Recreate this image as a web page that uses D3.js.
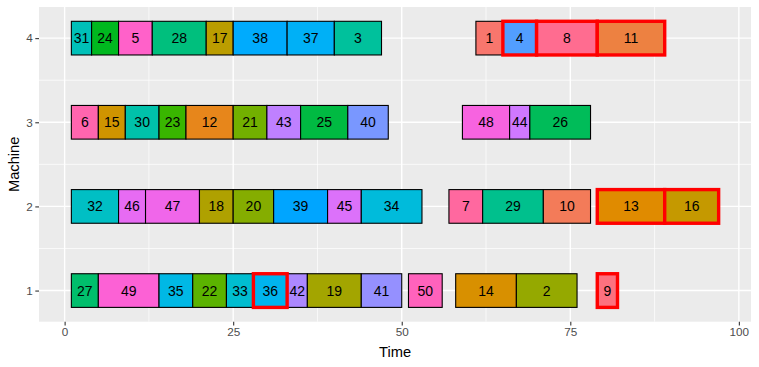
<!DOCTYPE html>
<html>
<head>
<meta charset="utf-8">
<script src="https://cdn.jsdelivr.net/npm/d3@7"></script>
<style>
  html, body { margin: 0; padding: 0; background: #fff; }
  svg { display: block; font-family: "Liberation Sans", Arial, sans-serif; }
</style>
</head>
<body>
<svg id="chart" width="759" height="367"></svg>
<script>
// ---- data ----
const jobs     = [31,24,5,28,17,38,37,3,1,4,8,11,
                  6,15,30,23,12,21,43,25,40,48,44,26,
                  32,46,47,18,20,39,45,34,7,29,10,13,16,
                  27,49,35,22,33,36,42,19,41,50,14,2,9];
const machines = [4,4,4,4,4,4,4,4,4,4,4,4,
                  3,3,3,3,3,3,3,3,3,3,3,3,
                  2,2,2,2,2,2,2,2,2,2,2,2,2,
                  1,1,1,1,1,1,1,1,1,1,1,1,1];
const starts   = [1,4,8,13,21,25,33,40,61,65,70,79,
                  1,5,9,14,18,25,30,35,42,59,66,69,
                  1,8,12,20,25,31,39,44,57,62,71,79,89,
                  1,5,14,19,24,28,33,36,44,51,58,67,79];
const ends     = [4,8,13,21,25,33,40,47,65,70,79,89,
                  5,9,14,18,25,30,35,42,48,66,69,78,
                  8,12,20,25,31,39,44,53,62,71,78,89,97,
                  5,14,19,24,28,33,36,44,50,56,67,76,82];
const highlighted = [4,8,11,13,16,36,9];
const xTicks = [0,25,50,75,100];
const yTicks = [1,2,3,4];
const xLabel = "Time";
const yLabel = "Machine";

// ---- R-like hcl (polarLUV) ----
function hclR(h, c, l) {
  const hr = h * Math.PI / 180;
  const U = c * Math.cos(hr), V = c * Math.sin(hr);
  const Xn = 95.047, Yn = 100, Zn = 108.883;
  const den = Xn + 15 * Yn + 3 * Zn;
  const un = 4 * Xn / den, vn = 9 * Yn / den;
  const Y = Yn * (l > 7.999592 ? Math.pow((l + 16) / 116, 3) : l / 903.3);
  const u = U / (13 * l) + un, v = V / (13 * l) + vn;
  const X = 9 * Y * u / (4 * v);
  const Z = -X / 3 - 5 * Y + 3 * Y / v;
  const x = X / 100, y = Y / 100, z = Z / 100;
  let r = 3.240479 * x - 1.537150 * y - 0.498535 * z;
  let g = -0.969256 * x + 1.875992 * y + 0.041556 * z;
  let b = 0.055648 * x - 0.204043 * y + 1.057311 * z;
  const gam = t => t <= 0.0031308 ? 12.92 * t : 1.055 * Math.pow(t, 1 / 2.4) - 0.055;
  const cl = t => Math.max(0, Math.min(255, Math.round(gam(t) * 255)));
  return d3.rgb(cl(r), cl(g), cl(b)).formatHex();
}

const levels = jobs.map(String).sort();
const n = levels.length;
const palette = levels.map((_, i) => hclR(15 + 360 * i / n, 100, 65));
const color = d3.scaleOrdinal().domain(levels).range(palette);

const data = jobs.map((j, i) => ({
  job: j, machine: machines[i], start: starts[i], end: ends[i],
  hi: highlighted.includes(j)
}));

// ---- layout ----
const svg = d3.select("#chart");
const panel = { left: 39, right: 751, top: 7, bottom: 321.7 };
const xMin = d3.min(starts), xMax = d3.max(ends);
const xPad = (xMax - xMin) * 0.05;
const x = d3.scaleLinear().domain([xMin - xPad, xMax + xPad]).range([panel.left, panel.right]);
const yMinV = d3.min(machines) - 0.2, yMaxV = d3.max(machines) + 0.2;
const yPad = (yMaxV - yMinV) * 0.05;
const y = d3.scaleLinear().domain([yMinV - yPad, yMaxV + yPad]).range([panel.bottom, panel.top]);

// panel bg
svg.append("rect").attr("x", panel.left).attr("y", panel.top)
  .attr("width", panel.right - panel.left).attr("height", panel.bottom - panel.top)
  .attr("fill", "#EBEBEB");

// minor grid
const xMinor = [12.5, 37.5, 62.5, 87.5];
const yMinor = [1.5, 2.5, 3.5];
const grid = svg.append("g");
grid.selectAll(".xmin").data(xMinor).join("line")
  .attr("x1", d => x(d)).attr("x2", d => x(d)).attr("y1", panel.top).attr("y2", panel.bottom)
  .attr("stroke", "#fff").attr("stroke-width", 0.7);
grid.selectAll(".ymin").data(yMinor).join("line")
  .attr("y1", d => y(d)).attr("y2", d => y(d)).attr("x1", panel.left).attr("x2", panel.right)
  .attr("stroke", "#fff").attr("stroke-width", 0.7);
grid.selectAll(".xmaj").data(xTicks).join("line")
  .attr("x1", d => x(d)).attr("x2", d => x(d)).attr("y1", panel.top).attr("y2", panel.bottom)
  .attr("stroke", "#fff").attr("stroke-width", 1.4);
grid.selectAll(".ymaj").data(yTicks).join("line")
  .attr("y1", d => y(d)).attr("y2", d => y(d)).attr("x1", panel.left).attr("x2", panel.right)
  .attr("stroke", "#fff").attr("stroke-width", 1.4);

// bars
const half = 0.2;
function drawBars(sel, stroke, sw) {
  sel.append("rect")
    .attr("x", d => x(d.start)).attr("width", d => x(d.end) - x(d.start))
    .attr("y", d => y(d.machine + half)).attr("height", d => y(d.machine - half) - y(d.machine + half))
    .attr("fill", d => color(String(d.job)))
    .attr("stroke", stroke).attr("stroke-width", sw);
}
const normal = svg.append("g").selectAll("g").data(data.filter(d => !d.hi)).join("g");
drawBars(normal, "#000", 1.1);
const hiG = svg.append("g").selectAll("g").data(data.filter(d => d.hi)).join("g");
drawBars(hiG, "#FF0000", 3.4);

// labels
svg.append("g").selectAll("text").data(data).join("text")
  .attr("x", d => x((d.start + d.end) / 2))
  .attr("y", d => y(d.machine))
  .attr("dy", "0.36em")
  .attr("text-anchor", "middle")
  .attr("font-size", "14px")
  .attr("fill", "#000")
  .text(d => d.job);

// axes
const xAxis = d3.axisBottom(x).tickValues(xTicks).tickFormat(d3.format("d")).tickSize(3.7).tickPadding(2.5);
const gx = svg.append("g").attr("transform", `translate(0,${panel.bottom})`).call(xAxis);
gx.select(".domain").remove();
gx.selectAll("line").attr("stroke", "#333333").attr("stroke-width", 1.1);
gx.selectAll("text").attr("fill", "#4D4D4D").attr("font-size", "11.7px").attr("font-family", "Liberation Sans, Arial, sans-serif");

const yAxis = d3.axisLeft(y).tickValues(yTicks).tickFormat(d3.format("d")).tickSize(3.7).tickPadding(2.5);
const gy = svg.append("g").attr("transform", `translate(${panel.left},0)`).call(yAxis);
gy.select(".domain").remove();
gy.selectAll("line").attr("stroke", "#333333").attr("stroke-width", 1.1);
gy.selectAll("text").attr("fill", "#4D4D4D").attr("font-size", "11.7px").attr("font-family", "Liberation Sans, Arial, sans-serif");

// titles
svg.append("text").attr("x", (panel.left + panel.right) / 2).attr("y", 357)
  .attr("text-anchor", "middle").attr("font-size", "14.7px").attr("fill", "#000").text(xLabel);
svg.append("text").attr("transform", `translate(19,${(panel.top + panel.bottom) / 2}) rotate(-90)`)
  .attr("text-anchor", "middle").attr("font-size", "14.7px").attr("fill", "#000").text(yLabel);
</script>
</body>
</html>
